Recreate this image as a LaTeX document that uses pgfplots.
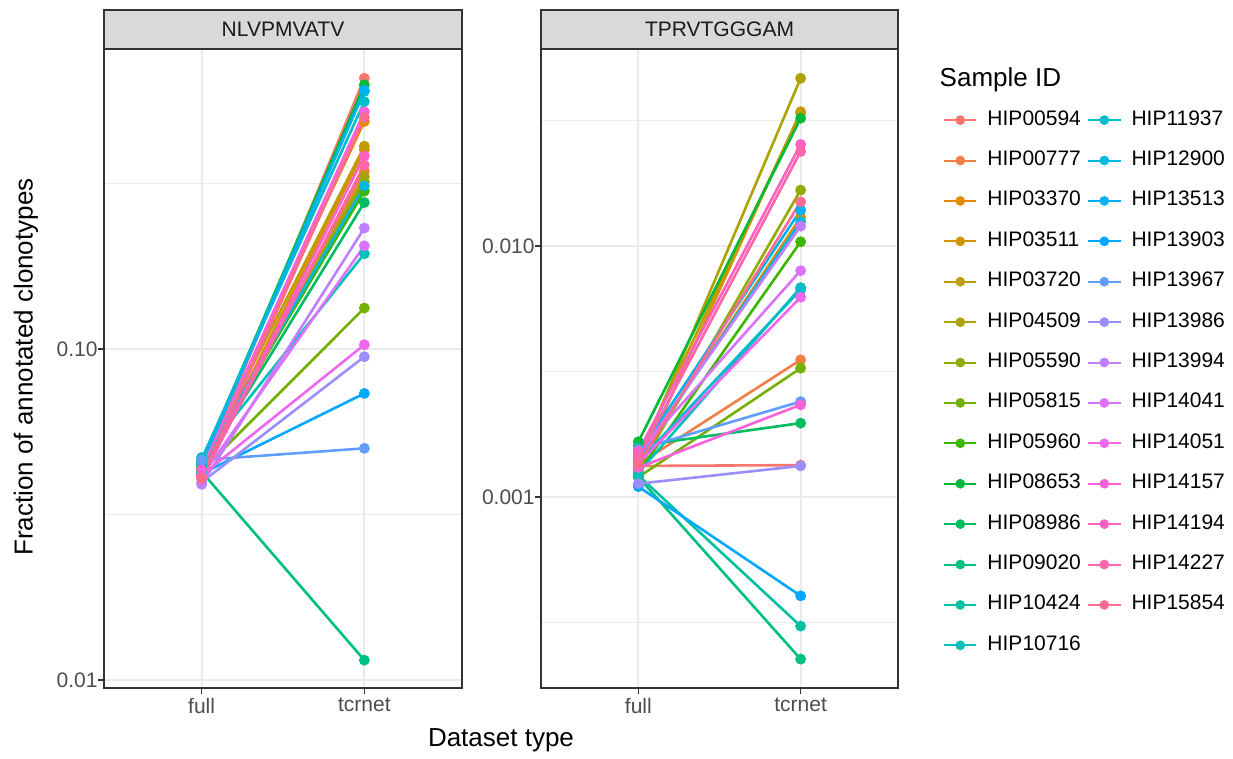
\documentclass[border=0pt]{standalone}
\usepackage{pgfplots}
\pgfplotsset{compat=1.18}
\usepackage{fontspec}
\setmainfont{Liberation Sans}

\definecolor{c01}{HTML}{F8766D}
\definecolor{c02}{HTML}{EF7F45}
\definecolor{c03}{HTML}{E28A00}
\definecolor{c04}{HTML}{D39200}
\definecolor{c05}{HTML}{C19C00}
\definecolor{c06}{HTML}{ADA200}
\definecolor{c07}{HTML}{93AA00}
\definecolor{c08}{HTML}{74B000}
\definecolor{c09}{HTML}{3DB600}
\definecolor{c10}{HTML}{00BA38}
\definecolor{c11}{HTML}{00BD62}
\definecolor{c12}{HTML}{00BF83}
\definecolor{c13}{HTML}{00C19F}
\definecolor{c14}{HTML}{00C0B8}
\definecolor{c15}{HTML}{00BDCE}
\definecolor{c16}{HTML}{00B9E3}
\definecolor{c17}{HTML}{00B2F3}
\definecolor{c18}{HTML}{00A8FF}
\definecolor{c19}{HTML}{619CFF}
\definecolor{c20}{HTML}{9A8FFF}
\definecolor{c21}{HTML}{BF80FF}
\definecolor{c22}{HTML}{DB72FB}
\definecolor{c23}{HTML}{EE67EC}
\definecolor{c24}{HTML}{FA62D9}
\definecolor{c25}{HTML}{FF61C3}
\definecolor{c26}{HTML}{FF65AA}
\definecolor{c27}{HTML}{FD6C8E}
\definecolor{gtwenty}{HTML}{333333}
\definecolor{gthirty}{HTML}{4D4D4D}
\definecolor{gridc}{HTML}{EBEBEB}
\definecolor{stripc}{HTML}{D9D9D9}
\definecolor{gten}{HTML}{1A1A1A}

% sample: colour, full, tcrnet  -- epitope NLVPMVATV
\newcommand\PanelA{%
\SmP{c01}{0.0425}{0.658}%
\SmP{c02}{0.0430}{0.345}%
\SmP{c03}{0.0440}{0.487}%
\SmP{c04}{0.0418}{0.400}%
\SmP{c05}{0.0445}{0.410}%
\SmP{c06}{0.0422}{0.332}%
\SmP{c07}{0.0435}{0.320}%
\SmP{c08}{0.0428}{0.133}%
\SmP{c09}{0.0450}{0.300}%
\SmP{c10}{0.0455}{0.628}%
\SmP{c11}{0.0440}{0.277}%
\SmP{c12}{0.0426}{0.01148}%
\SmP{c13}{0.0460}{0.600}%
\SmP{c14}{0.0470}{0.194}%
\SmP{c15}{0.0465}{0.559}%
\SmP{c16}{0.0452}{0.311}%
\SmP{c17}{0.0448}{0.605}%
\SmP{c18}{0.0420}{0.0734}%
\SmP{c19}{0.0462}{0.0501}%
\SmP{c20}{0.0396}{0.0948}%
\SmP{c21}{0.0390}{0.232}%
\SmP{c22}{0.0412}{0.205}%
\SmP{c23}{0.0415}{0.103}%
\SmP{c24}{0.0432}{0.521}%
\SmP{c25}{0.0410}{0.383}%
\SmP{c26}{0.0405}{0.360}%
\SmP{c27}{0.0408}{0.500}%
}
% epitope TPRVTGGGAM
\newcommand\PanelB{%
\SmP{c01}{0.00133}{0.00134}%
\SmP{c02}{0.00135}{0.00352}%
\SmP{c03}{0.00140}{0.0130}%
\SmP{c04}{0.00130}{0.0343}%
\SmP{c05}{0.00145}{0.0338}%
\SmP{c06}{0.00140}{0.0466}%
\SmP{c07}{0.00128}{0.0167}%
\SmP{c08}{0.00120}{0.00326}%
\SmP{c09}{0.00125}{0.0104}%
\SmP{c10}{0.00166}{0.0323}%
\SmP{c11}{0.00160}{0.00197}%
\SmP{c12}{0.00120}{0.000226}%
\SmP{c13}{0.00122}{0.000306}%
\SmP{c14}{0.00125}{0.00683}%
\SmP{c15}{0.00138}{0.00670}%
\SmP{c16}{0.00142}{0.0125}%
\SmP{c17}{0.00148}{0.0139}%
\SmP{c18}{0.00110}{0.000404}%
\SmP{c19}{0.00155}{0.00240}%
\SmP{c20}{0.00113}{0.00133}%
\SmP{c21}{0.00145}{0.0120}%
\SmP{c22}{0.00150}{0.00798}%
\SmP{c23}{0.00136}{0.00625}%
\SmP{c24}{0.00131}{0.00233}%
\SmP{c25}{0.00152}{0.0254}%
\SmP{c26}{0.00143}{0.0238}%
\SmP{c27}{0.00135}{0.0150}%
}

\newcommand\LinePass{\def\SmP##1##2##3{\addplot[color=##1, line width=1.3pt, forget plot] coordinates {(1,##2) (2,##3)};}}
\newcommand\MarkPass{\def\SmP##1##2##3{\addplot[color=##1, only marks, mark=*, mark size=2.5pt, forget plot] coordinates {(1,##2) (2,##3)};}}
\newcommand\LE[2]{\addlegendimage{color=#1, line width=1pt, mark=*, mark size=1.9pt}\addlegendentry{#2}}

\begin{document}
\begin{tikzpicture}[x=1pt,y=1pt]
\path (0,0) rectangle (616.5,378);

\begin{axis}[ymode=log,
  scale only axis, width=179pt, height=319.5pt, anchor=south west, at={(52pt,34pt)},
  xmin=0.4, xmax=2.6, xtick={1,2}, xticklabels={full,tcrnet},
  axis line style={color=gtwenty, line width=0.7pt},
  tick style={color=gtwenty, line width=0.7pt},
  tick align=outside, major tick length=3pt, minor tick length=0pt,
  xtick pos=left, ytick pos=left,
  grid=both,
  major grid style={color=gridc, line width=1.1pt},
  minor grid style={color=gridc, line width=0.55pt},
  tick label style={font=\fontsize{10.5}{12}\selectfont, text=gthirty},
  yticklabel style={inner xsep=0pt},
  xticklabel style={inner ysep=2pt},
  ymin=0.009458, ymax=0.806,
  ytick={0.01,0.1}, yticklabels={0.01,0.10},
  minor ytick={0.0316228,0.316228},
  legend columns=1,
  legend image code/.code={\draw[mark repeat=2,mark phase=2,#1] plot coordinates {(0pt,0pt) (8.1pt,0pt) (16.2pt,0pt)};},
  legend style={at={(2.745,0.905)}, anchor=north west, draw=none, fill=none,
    inner sep=0pt, column sep=5pt, row sep=10.2pt,
    font=\fontsize{10.5}{12}\selectfont,
    nodes={inner sep=0pt, text height=7.5pt, text depth=2.5pt, text=black}},
  legend cell align=left]
\LinePass
\PanelA
\MarkPass
\PanelA
\LE{c15}{HIP11937}
\LE{c16}{HIP12900}
\LE{c17}{HIP13513}
\LE{c18}{HIP13903}
\LE{c19}{HIP13967}
\LE{c20}{HIP13986}
\LE{c21}{HIP13994}
\LE{c22}{HIP14041}
\LE{c23}{HIP14051}
\LE{c24}{HIP14157}
\LE{c25}{HIP14194}
\LE{c26}{HIP14227}
\LE{c27}{HIP15854}
\end{axis}

\begin{axis}[ymode=log,
  scale only axis, width=178.5pt, height=319.5pt, anchor=south west, at={(270.5pt,34pt)},
  xmin=0.4, xmax=2.6, xtick={1,2}, xticklabels={full,tcrnet},
  axis line style={color=gtwenty, line width=0.7pt},
  tick style={color=gtwenty, line width=0.7pt},
  tick align=outside, major tick length=3pt, minor tick length=0pt,
  xtick pos=left, ytick pos=left,
  grid=both,
  major grid style={color=gridc, line width=1.1pt},
  minor grid style={color=gridc, line width=0.55pt},
  tick label style={font=\fontsize{10.5}{12}\selectfont, text=gthirty},
  yticklabel style={inner xsep=0pt},
  xticklabel style={inner ysep=2pt},
  ymin=0.0001734, ymax=0.06095,
  ytick={0.001,0.01}, yticklabels={0.001,0.010},
  minor ytick={0.000316228,0.00316228,0.0316228},
  legend columns=1,
  legend image code/.code={\draw[mark repeat=2,mark phase=2,#1] plot coordinates {(0pt,0pt) (8.1pt,0pt) (16.2pt,0pt)};},
  legend style={at={(1.1252,0.905)}, anchor=north west, draw=none, fill=none,
    inner sep=0pt, column sep=5pt, row sep=10.2pt,
    font=\fontsize{10.5}{12}\selectfont,
    nodes={inner sep=0pt, text height=7.5pt, text depth=2.5pt, text=black}},
  legend cell align=left]
\LinePass
\PanelB
\MarkPass
\PanelB
\LE{c01}{HIP00594}
\LE{c02}{HIP00777}
\LE{c03}{HIP03370}
\LE{c04}{HIP03511}
\LE{c05}{HIP03720}
\LE{c06}{HIP04509}
\LE{c07}{HIP05590}
\LE{c08}{HIP05815}
\LE{c09}{HIP05960}
\LE{c10}{HIP08653}
\LE{c11}{HIP08986}
\LE{c12}{HIP09020}
\LE{c13}{HIP10424}
\LE{c14}{HIP10716}
\end{axis}

% facet strips
\draw[fill=stripc, draw=gtwenty, line width=0.7pt] (52,353.5) rectangle (231,373);
\node[font=\fontsize{10.5}{12}\selectfont, text=gten] at (141.5,363.25) {NLVPMVATV};
\draw[fill=stripc, draw=gtwenty, line width=0.7pt] (270.5,353.5) rectangle (449,373);
\node[font=\fontsize{10.5}{12}\selectfont, text=gten] at (359.75,363.25) {TPRVTGGGAM};

% titles
\node[rotate=90, font=\fontsize{13}{15}\selectfont] at (13,194.5) {Fraction of annotated clonotypes};
\node[font=\fontsize{13}{15}\selectfont] at (250.5,8) {Dataset type};
\node[anchor=base west, inner sep=0pt, font=\fontsize{13}{15}\selectfont] at (469.65,334.65) {Sample ID};
\end{tikzpicture}
\end{document}
